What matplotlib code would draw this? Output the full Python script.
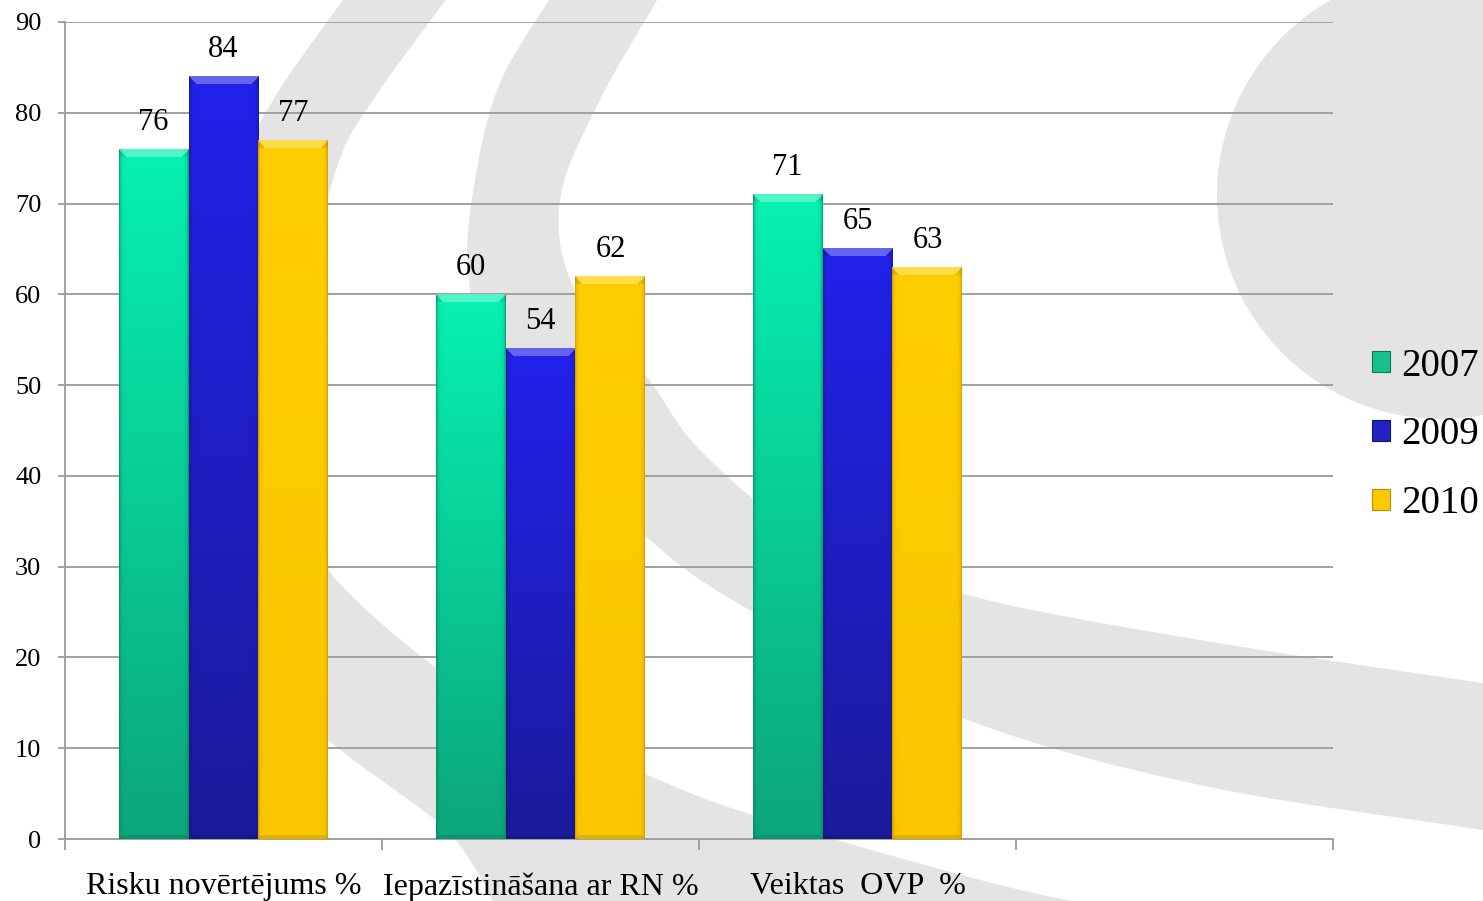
import numpy as np
import matplotlib
matplotlib.use('Agg')
import matplotlib.pyplot as plt
from matplotlib.patches import Patch, Circle

# Data
categories = ['Risku novērtējums %', 'Iepazīstināšana ar RN %', 'Veiktas  OVP  %', '']
years = ['2007', '2009', '2010']
v2007 = [76, 60, 71]
v2009 = [84, 54, 65]
v2010 = [77, 62, 63]
yticks = [0, 10, 20, 30, 40, 50, 60, 70, 80, 90]

# Colours: (top, bottom, edge) of the gradient for each series
styles = {
    '2007': ((6, 242, 178), (12, 166, 122), (10, 120, 90)),
    '2009': ((34, 34, 236), (26, 26, 154), (20, 20, 110)),
    '2010': ((255, 206, 0), (250, 198, 0), (190, 140, 0)),
}
legend_cols = {'2007': '#18c08e', '2009': '#2222c0', '2010': '#ffc800'}

plt.rcParams['font.family'] = ['Liberation Serif', 'DejaVu Serif']

W, H = 1483, 901
fig = plt.figure(figsize=(W / 100, H / 100), dpi=100)
fig.patch.set_facecolor('white')


# Smooth curve through a few points (for the background swooshes)
def catmull(pts, n=25):
    p = np.asarray(pts, float)
    p = np.vstack([2 * p[0] - p[1], p, 2 * p[-1] - p[-2]])
    t = np.linspace(0, 1, n, endpoint=False)[:, None]
    out = []
    for i in range(1, len(p) - 2):
        p0, p1, p2, p3 = p[i - 1], p[i], p[i + 1], p[i + 2]
        out.append(0.5 * (2 * p1 + (-p0 + p2) * t + (2 * p0 - 5 * p1 + 4 * p2 - p3) * t ** 2
                          + (-p0 + 3 * p1 - 3 * p2 + p3) * t ** 3))
    out.append(p[-2][None])
    return np.vstack(out)


# Background decoration (template swooshes), in pixel coordinates
bg = fig.add_axes([0, 0, 1, 1], zorder=-5)
bg.set_xlim(0, W)
bg.set_ylim(H, 0)
bg.axis('off')
grey = '#e4e4e4'
band1_out = [(350, -10), (273, 100), (225, 200), (195, 300), (190, 400), (205, 500),
             (240, 600), (290, 690), (328, 740), (435, 820), (470, 860), (500, 915)]
band1_in = [(453, -10), (373, 100), (337, 167), (305, 300), (295, 420), (305, 500),
            (328, 570), (435, 667), (540, 730), (647, 775), (753, 815), (1000, 885),
            (1150, 915)]
band2_out = [(555, -10), (500, 83), (475, 180), (468, 270), (490, 360), (560, 440),
             (650, 540), (753, 612), (960, 717), (1200, 785), (1495, 832)]
band2_in = [(663, -10), (600, 100), (560, 200), (575, 290), (647, 377), (700, 450),
            (800, 530), (960, 593), (1200, 640), (1495, 685)]
for outer, inner in [(band1_out, band1_in), (band2_out, band2_in)]:
    poly = np.vstack([catmull(outer), catmull(inner)[::-1]])
    bg.fill(poly[:, 0], poly[:, 1], color=grey, lw=0)
bg.add_patch(Circle((1441, 195), 224, color=grey, lw=0))

# Main axes
ax = fig.add_axes([65 / W, 1 - 839 / H, (1333 - 65) / W, (839 - 22) / H])
ax.set_facecolor('none')
x = np.arange(len(categories))
width = 0.2208
series = [v2007, v2009, v2010]
bars = {}
for k, (yr, vals) in enumerate(zip(years, series)):
    bars[yr] = ax.bar(x[:len(vals)] + (k - 1) * width, vals, width,
                      color=legend_cols[yr], zorder=3, linewidth=0)

ax.set_xlim(-0.5, len(categories) - 0.5)
ax.set_ylim(0, 90)
px_per_unit = (839 - 22) / 90.0
bar_px = width * (1333 - 65) / len(categories)


# Gradient and bevel for each bar
def bar_image(h_px, w_px, top, bottom, edge):
    top = np.array(top) / 255.0
    bottom = np.array(bottom) / 255.0
    edge = np.array(edge) / 255.0
    t = np.linspace(0, 1, h_px)[:, None, None]
    img = top * (1 - t) + bottom * t
    img = np.repeat(img, w_px, axis=1)
    cols = np.arange(w_px)
    d = np.minimum(cols, w_px - 1 - cols)
    f = np.exp(-d / 1.5)[None, :, None] * 0.6
    img = img * (1 - f) + edge * f
    bev = 8
    for r in range(min(bev, h_px)):
        inside = (cols >= r) & (cols < w_px - r)
        img[r, inside] = img[r, inside] * 0.7 + 0.3
        img[r, ~inside] = img[r, ~inside] * 0.92
    for r in range(min(4, h_px)):
        rr = h_px - 1 - r
        inside = (cols >= r) & (cols < w_px - r)
        img[rr, inside] = img[rr, inside] * 0.9
    return np.clip(img, 0, 1)


for yr in years:
    top, bottom, edge = styles[yr]
    for rect in bars[yr]:
        x0, w, h = rect.get_x(), rect.get_width(), rect.get_height()
        img = bar_image(int(round(h * px_per_unit)), int(round(bar_px)), top, bottom, edge)
        ax.imshow(img, extent=[x0, x0 + w, 0, h], aspect='auto', zorder=4,
                  interpolation='nearest')
        ax.annotate(f'{h:g}', (x0 + w / 2, h), xytext=(0, 9), textcoords='offset points',
                    ha='center', va='bottom', fontsize=22, zorder=6)

ax.set_xlim(-0.5, len(categories) - 0.5)
ax.set_ylim(0, 90)

# Grid, spines, ticks
gcol = '#a0a0a0'
ax.set_yticks(yticks)
ax.yaxis.grid(True, color=gcol, lw=1.4, zorder=0)
ax.set_axisbelow(True)
for s in ['top', 'right']:
    ax.spines[s].set_visible(False)
for s in ['left', 'bottom']:
    ax.spines[s].set_color(gcol)
    ax.spines[s].set_linewidth(1.4)
ax.tick_params(axis='y', colors=gcol, labelcolor='black', labelsize=19, length=5,
               width=1.4, pad=12)
ax.set_xticks(x)
ax.set_xticklabels(categories, fontsize=23)
ax.set_xticks(np.arange(len(categories) + 1) - 0.5, minor=True)
ax.tick_params(axis='x', which='major', length=0, pad=24)
ax.tick_params(axis='x', which='minor', length=8, width=1.4, color=gcol)

# Legend
edge_hex = {yr: '#%02x%02x%02x' % styles[yr][2] for yr in years}
handles = [Patch(facecolor=legend_cols[yr], edgecolor=edge_hex[yr], lw=0.8) for yr in years]
fig.legend(handles, years, loc='center left', bbox_to_anchor=(1372 / W, 1 - 435 / H),
           frameon=False, fontsize=28, handlelength=0.45, handleheight=0.45,
           handletextpad=0.3, labelspacing=0.82, borderpad=0, borderaxespad=0)

fig.savefig('out.png', dpi=100, facecolor='white')
